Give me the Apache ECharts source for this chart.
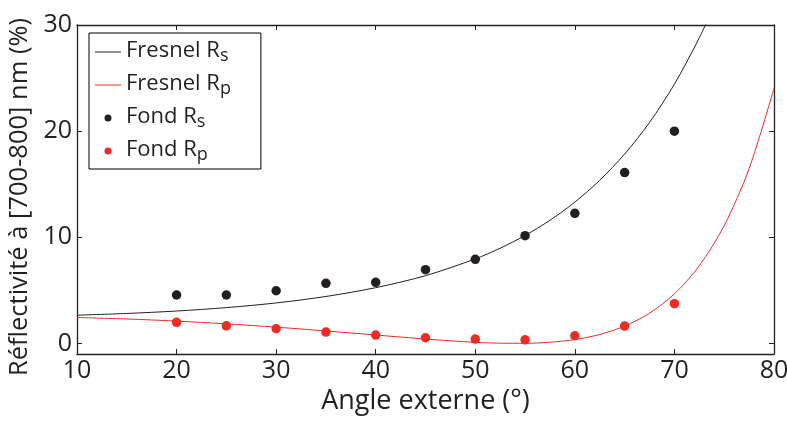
<!DOCTYPE html>
<html>
<head>
<meta charset="utf-8">
<script src="https://cdn.jsdelivr.net/npm/echarts@6/dist/echarts.min.js"></script>
<style>
html,body{margin:0;padding:0;background:#fff;}
#c{width:787px;height:423px;}
</style>
</head>
<body>
<div id="c"></div>
<script>
// Fresnel theory curves
const rsAngles = [10, 15, 20, 25, 30, 35, 40, 45, 50, 52.5, 55, 57.5, 60, 62.5, 65, 67.5, 70, 72.5, 74];
const rsValues = [2.66, 2.82, 3.05, 3.37, 3.81, 4.42, 5.25, 6.38, 7.96, 8.97, 10.17, 11.60, 13.31, 15.37, 17.84, 20.82, 24.43, 28.80, 31.86];
const rpAngles = [10, 15, 20, 25, 30, 35, 40, 45, 50, 52.5, 55, 57.5, 60, 62.5, 65, 67.5, 70, 72.5, 75, 77.5, 80];
const rpValues = [2.44, 2.30, 2.10, 1.84, 1.53, 1.17, 0.79, 0.41, 0.10, 0.02, 0.01, 0.11, 0.36, 0.84, 1.63, 2.85, 4.67, 7.32, 11.10, 16.47, 24.04];
// Measured points
const fondAngles = [20, 25, 30, 35, 40, 45, 50, 55, 60, 65, 70];
const fondRs = [4.56, 4.56, 4.96, 5.66, 5.75, 6.94, 7.92, 10.15, 12.26, 16.1, 20.0];
const fondRp = [1.98, 1.66, 1.38, 1.07, 0.78, 0.53, 0.41, 0.34, 0.72, 1.63, 3.74];
// Ticks
const xTicks = [10, 20, 30, 40, 50, 60, 70, 80];
const yTicks = [0, 10, 20, 30];
const names = ['Fresnel Rs', 'Fresnel Rp', 'Fond Rs', 'Fond Rp'];

const zip = (a, b) => a.map((v, i) => [v, b[i]]);
const FONT = 'Open Sans';
const TXT = '#231f20';
const BLACK = '#231f20';
const RED = '#ee2b24';
const LINE_ICON = 'path://M0,0H26V1H0Z';

const chart = echarts.init(document.getElementById('c'), null, {renderer: 'canvas'});
const axisLine = {show: true, onZero: false, lineStyle: {color: '#222', width: 1.3}};
const tickStyle = {lineStyle: {color: '#222', width: 1}};

chart.setOption({
  animation: false,
  backgroundColor: '#fff',
  grid: {left: 77, right: 13, top: 25, bottom: 69, containLabel: false, outerBoundsMode: 'none'},
  legend: {
    orient: 'vertical',
    left: 89, top: 33,
    padding: [7, 30, 5, 6],
    itemGap: 8,
    itemWidth: 26,
    itemHeight: 7,
    borderColor: '#000', borderWidth: 1,
    backgroundColor: '#fff',
    data: [
      {name: names[0], icon: LINE_ICON}, {name: names[1], icon: LINE_ICON},
      {name: names[2], icon: 'circle'}, {name: names[3], icon: 'circle'}
    ],
    formatter: n => {
      const m = n.match(/^(.*R)(.)$/);
      return '{m|' + m[1] + '}{s|' + m[2] + '}';
    },
    textStyle: {
      color: TXT, fontFamily: FONT,
      rich: {
        m: {fontSize: 22, fontFamily: FONT, color: TXT, lineHeight: 24, verticalAlign: 'top'},
        s: {fontSize: 18, fontFamily: FONT, color: TXT, lineHeight: 24, verticalAlign: 'top', padding: [7, 0, 0, 0]}
      }
    }
  },
  xAxis: [{
    type: 'value', min: 10, max: 80, interval: 10, position: 'bottom',
    name: 'Angle externe (°)', nameLocation: 'middle', nameGap: 32,
    nameTextStyle: {fontSize: 27, fontFamily: FONT, color: TXT},
    axisLine: axisLine,
    axisTick: Object.assign({show: true, inside: true, length: 5}, tickStyle),
    axisLabel: {fontSize: 25, fontFamily: FONT, color: TXT, margin: 4},
    splitLine: {show: false}
  }, {
    type: 'value', min: 10, max: 80, interval: 10, position: 'top',
    axisLine: axisLine,
    axisTick: Object.assign({show: true, inside: true, length: 5}, tickStyle),
    axisLabel: {show: false},
    splitLine: {show: false}
  }],
  yAxis: [{
    type: 'value', min: -1, max: 30, position: 'left',
    name: 'Réflectivité à [700-800] nm (%)', nameLocation: 'middle', nameGap: 40,
    nameTextStyle: {fontSize: 25.5, fontFamily: FONT, color: TXT, padding: [0, 15, 0, 0]},
    axisLine: axisLine,
    axisTick: Object.assign({show: true, inside: true, length: 5, customValues: yTicks}, tickStyle),
    axisLabel: {fontSize: 25, fontFamily: FONT, color: TXT, margin: 5, customValues: yTicks},
    splitLine: {show: false}
  }, {
    type: 'value', min: -1, max: 30, position: 'right',
    axisLine: axisLine,
    axisTick: Object.assign({show: true, inside: true, length: 5, customValues: yTicks}, tickStyle),
    axisLabel: {show: false},
    splitLine: {show: false}
  }],
  series: [{
    name: names[0], type: 'line', data: zip(rsAngles, rsValues), smooth: 0.3,
    symbol: 'none', clip: true,
    lineStyle: {color: BLACK, width: 1}, itemStyle: {color: BLACK}, z: 2
  }, {
    name: names[1], type: 'line', data: zip(rpAngles, rpValues), smooth: 0.3,
    symbol: 'none', clip: true,
    lineStyle: {color: RED, width: 1}, itemStyle: {color: RED}, z: 2
  }, {
    name: names[2], type: 'scatter', data: zip(fondAngles, fondRs),
    symbol: 'circle', symbolSize: 9.5, itemStyle: {color: BLACK, opacity: 1}, z: 3
  }, {
    name: names[3], type: 'scatter', data: zip(fondAngles, fondRp),
    symbol: 'circle', symbolSize: 9.5, itemStyle: {color: RED, opacity: 1}, z: 3
  }]
});
</script>
</body>
</html>
